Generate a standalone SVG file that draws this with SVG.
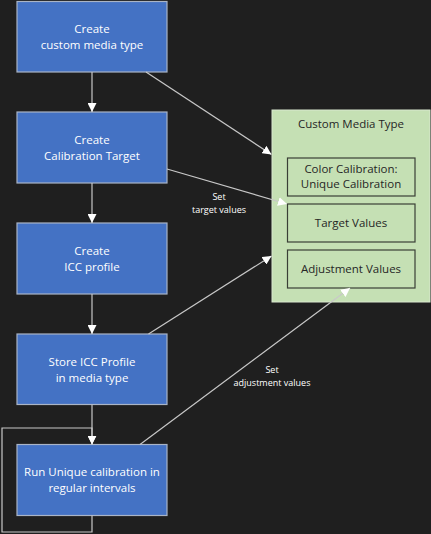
<svg xmlns="http://www.w3.org/2000/svg" width="431" height="534" viewBox="0 0 431 534">
<defs>
<style>
.bg{fill:#1f1f1f}
.blue rect{fill:#4472c4;stroke:#a9b4c6;stroke-width:1.2}
.blue text{fill:#ffffff;font-family:"Open Sans","Noto Sans",sans-serif;font-size:11.5px;text-anchor:middle}
.green{fill:#c5e0b4;stroke:#d9e8cf;stroke-width:1}
.inner rect{fill:#c5e0b4;stroke:#3a3f36;stroke-width:1.2}
.dark{fill:#262626;font-family:"Open Sans","Noto Sans",sans-serif;font-size:11.5px;text-anchor:middle}
.lbl{fill:#ffffff;font-family:"Open Sans","Noto Sans",sans-serif;font-size:9px;text-anchor:middle}
.conn{fill:none;stroke:#c8c8c8;stroke-width:1.2}
</style>
<marker id="ah" viewBox="0 0 10 10" refX="10" refY="5" markerWidth="9" markerHeight="9" markerUnits="userSpaceOnUse" orient="auto">
<path d="M0,0 L10,5 L0,10 z" fill="#ffffff"/>
</marker>
</defs>
<rect class="bg" x="0" y="0" width="431" height="534"/>

<g id="n-custom" class="blue">
<rect x="17" y="1.5" width="150" height="70.5"/>
<text x="92" y="33">Create</text>
<text x="92" y="49">custom media type</text>
</g>
<g id="n-target" class="blue">
<rect x="17" y="112" width="150" height="71"/>
<text x="92" y="144">Create</text>
<text x="92" y="160">Calibration Target</text>
</g>
<g id="n-icc" class="blue">
<rect x="17" y="223" width="150" height="71"/>
<text x="92" y="255">Create</text>
<text x="92" y="271">ICC profile</text>
</g>
<g id="n-store" class="blue">
<rect x="17" y="334" width="150" height="70.5"/>
<text x="92" y="366">Store ICC Profile</text>
<text x="92" y="382">in media type</text>
</g>
<g id="n-run" class="blue">
<rect x="17" y="444.5" width="150" height="71"/>
<text x="92" y="476">Run Unique calibration in</text>
<text x="92" y="492">regular intervals</text>
</g>

<g id="n-cmt">
<rect class="green" x="272" y="110" width="158" height="192"/>
<text class="dark" x="351" y="128">Custom Media Type</text>
</g>
<g id="n-colorcal" class="inner">
<rect x="287.5" y="158" width="127.5" height="38"/>
<text class="dark" x="351" y="173">Color Calibration:</text>
<text class="dark" x="351" y="188">Unique Calibration</text>
</g>
<g id="n-targetvals" class="inner">
<rect x="287.5" y="204" width="127.5" height="38"/>
<text class="dark" x="351" y="227">Target Values</text>
</g>
<g id="n-adjvals" class="inner">
<rect x="287.5" y="250" width="127.5" height="38"/>
<text class="dark" x="351" y="273">Adjustment Values</text>
</g>

<g id="connectors">
<line class="conn" x1="92" y1="72" x2="92" y2="112" marker-end="url(#ah)"/>
<line class="conn" x1="92" y1="183" x2="92" y2="223" marker-end="url(#ah)"/>
<line class="conn" x1="92" y1="294" x2="92" y2="334" marker-end="url(#ah)"/>
<polyline class="conn" points="92,404.5 92,444.5" marker-end="url(#ah)"/>
<polyline class="conn" points="92,515.5 92,532 2,532 2,428 92,428 92,444.5" marker-end="url(#ah)"/>
<line class="conn" x1="146" y1="72" x2="271.5" y2="154.5" marker-end="url(#ah)"/>
<line class="conn" x1="167" y1="169" x2="287" y2="204" marker-end="url(#ah)"/>
<line class="conn" x1="148.5" y1="334" x2="271.5" y2="256" marker-end="url(#ah)"/>
<line class="conn" x1="140" y1="444.5" x2="350" y2="288" marker-end="url(#ah)"/>
<text class="lbl" x="219" y="200">Set</text>
<text class="lbl" x="219" y="213">target values</text>
<text class="lbl" x="272" y="373">Set</text>
<text class="lbl" x="272" y="386">adjustment values</text>
</g>
</svg>
